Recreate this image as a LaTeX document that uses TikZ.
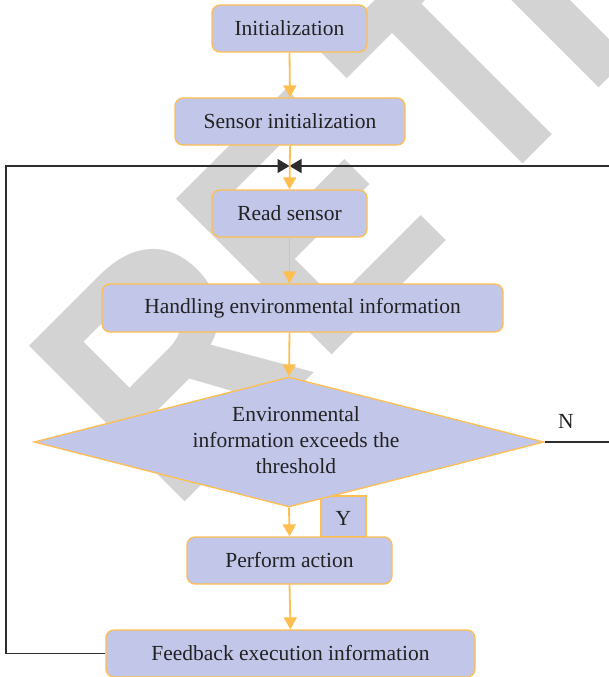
\documentclass[tikz,border=0pt]{standalone}
\usepackage{fontspec}
\setmainfont{Liberation Serif}
\newfontfamily\wmfont{Liberation Sans}[FakeStretch=0.9]
\usetikzlibrary{arrows.meta,shapes.geometric}
\definecolor{boxfill}{RGB}{194,199,234}
\definecolor{boxline}{RGB}{255,190,80}
\definecolor{wmgray}{RGB}{211,211,211}
\definecolor{txt}{RGB}{34,34,34}
\definecolor{loopline}{RGB}{45,45,45}
\tikzset{
  procbox/.style={draw=boxline, fill=boxfill, line width=1.3pt, rounded corners=8pt,
    inner sep=0pt, text=txt, font=\fontsize{21.5}{26}\selectfont},
  decbox/.style={draw=boxline, fill=boxfill, line width=1.3pt, shape=diamond,
    inner sep=0pt, aspect=3.9},
  ylabbox/.style={draw=boxline, fill=boxfill, line width=1.3pt, inner sep=0pt,
    text=txt, font=\fontsize{21.5}{26}\selectfont},
  lbl/.style={text=txt, font=\fontsize{21.5}{26}\selectfont, inner sep=0pt, align=center},
  flow/.style={draw=boxline, line width=1.8pt, -{Triangle[length=12pt,width=13pt]}},
  loop/.style={draw=loopline, line width=1.4pt, -{Triangle[length=12pt,width=14pt]}, color=loopline},
  watermark/.style={rotate=45, anchor=base west, inner sep=0pt, text=wmgray,
    font=\wmfont\bfseries\fontsize{320}{320}\selectfont}
}
\begin{document}
\begin{tikzpicture}[x=1pt,y=-1pt]
\useasboundingbox (0,0) rectangle (608,677);
\fill[white] (0,0) rectangle (608,677);
\begin{scope}
\clip (0,0) rectangle (608,677);
\node[watermark] (wm) at (171,516) {RE\kern30pt T\kern-20pt RACTED};
\end{scope}

% boxes
\node[procbox, minimum width=155pt, minimum height=47pt] (init) at (289.5,28.5) {Initialization};
\node[procbox, minimum width=230pt, minimum height=47pt] (sinit) at (290,121.5) {Sensor initialization};
\node[procbox, minimum width=155pt, minimum height=47pt] (read) at (289.5,213.5) {Read sensor};
\node[procbox, minimum width=401pt, minimum height=48pt] (handle) at (302.5,308) {Handling environmental information};
\node[ylabbox, minimum width=45pt, minimum height=41pt] (ybox) at (343.5,516.5) {};
\node[decbox, minimum width=510pt, minimum height=130pt] (dec) at (289,442) {};
\node[lbl] (dtext) at (296,440) {Environmental\\information exceeds the\\threshold};
\node[lbl] (ytext) at (343.5,518) {Y};
\node[procbox, minimum width=205pt, minimum height=47pt] (perform) at (289.5,560.5) {Perform action};
\node[procbox, minimum width=369pt, minimum height=47pt] (feed) at (290.5,653.5) {Feedback execution information};
\node[lbl] (nlabel) at (566,421) {N};

% merge point of the loop
\coordinate (merge) at (289.5,166);
\coordinate (lcorner) at (6,166);
\coordinate (lbottom) at (6,653.5);
\coordinate (rcorner) at (614,166);
\coordinate (rmid) at (614,442);

% loop lines
\draw[loop] (feed.west) -- (lbottom) -- (lcorner) -- (merge);
\draw[loop] (dec.east) -- (rmid) -- (rcorner) -- (merge);

% flow arrows
\draw[flow] (init.south) -- (sinit.north);
\draw[flow] (sinit.south) -- (read.north);
\draw[flow] (read.south) -- (read.south |- handle.north);
\draw[flow] (read.south |- handle.south) -- (dec.north);
\draw[flow] (dec.south) -- (perform.north);
\draw[flow] (perform.south) -- (feed.north);
\end{tikzpicture}
\end{document}
